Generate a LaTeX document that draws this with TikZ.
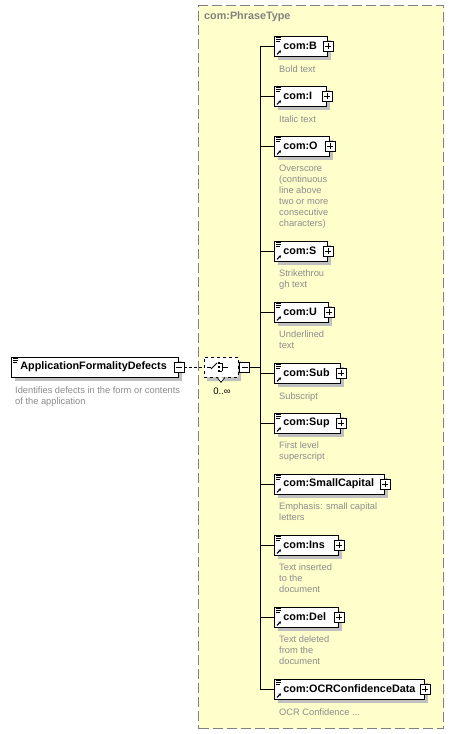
\documentclass[tikz,border=0pt]{standalone}
\usepackage{fontspec}
\setmainfont{Liberation Sans}
\usetikzlibrary{shapes.misc,shadows,arrows.meta,calc}
\definecolor{yel}{RGB}{255,255,204}
\definecolor{bord}{RGB}{128,128,128}
\definecolor{shad}{RGB}{192,192,192}
\definecolor{desccol}{RGB}{140,140,140}
\tikzset{
  elem/.style={draw=black, fill=white, line width=0.8pt, minimum height=20pt,
    inner xsep=0pt, inner ysep=0pt, align=left, anchor=west,
    font=\fontsize{10.8}{12}\selectfont\bfseries,
    drop shadow={fill=shad, opacity=1, shadow xshift=4pt, shadow yshift=-4pt}},
  plusbox/.style={draw=black, fill=white, minimum size=10pt, inner sep=0pt, line width=0.6pt,
    path picture={\draw[line width=0.6pt]
      ([xshift=2pt]path picture bounding box.west) -- ([xshift=-2pt]path picture bounding box.east)
      ([yshift=-2pt]path picture bounding box.north) -- ([yshift=2pt]path picture bounding box.south);}},
  minusbox/.style={draw=black, fill=white, minimum size=10pt, inner sep=0pt, line width=0.6pt,
    path picture={\draw[line width=0.6pt]
      ([xshift=2pt]path picture bounding box.west) -- ([xshift=-2pt]path picture bounding box.east);}},
  descr/.style={anchor=north west, inner sep=0pt, align=left, text=desccol,
    font=\fontsize{9.3}{11}\selectfont, execute at begin node=\strut},
  groupbox/.style={draw=bord, fill=yel, line width=1.1pt, dash pattern=on 10pt off 4pt,
    anchor=north west, inner sep=0pt},
  conn/.style={draw=black, line width=0.8pt},
}
\newcommand\deco[1]{%
  \draw[line width=0.7pt] ([shift={(2,2)}]#1.north west) -- +(5,0)
    ([shift={(2,4)}]#1.north west) -- +(5,0)
    ([shift={(2,6)}]#1.north west) -- +(4,0);}
\newcommand\elt[5]{%
  \node[elem, text width=#3pt] (#1) at (274,#2) {\hspace*{9pt}#4};
  \node[plusbox] (#1p) at (#1.east) {};
  \node[descr] (#1d) at ([xshift=5pt,yshift=-8pt]#1.south west) {#5};
  \deco{#1}
  \draw[line width=1pt, -{Stealth[length=2.5pt,width=3pt]}] ([shift={(3,-2)}]#1.south west) -- +(4,-4);
  \draw[conn] (spine |- #1.west) -- (#1.west);}
\begin{document}
\begin{tikzpicture}[x=1pt,y=-1pt]
\useasboundingbox (0,0) rectangle (453,734);
\fill[white] (0,0) rectangle (453,734);
\node[groupbox, minimum width=245pt, minimum height=723pt] (grp) at (198,5) {};
\node[anchor=west, inner sep=0pt, text=bord, font=\fontsize{10.8}{12}\selectfont\bfseries] (title) at (204,17) {com:PhraseType};
\coordinate (spine) at (260,367);
% main element
\node[elem, text width=167pt] (afd) at (11,367) {\hspace*{9pt}ApplicationFormalityDefects};
\node[minusbox] (afdm) at (afd.east) {};
\deco{afd}
\node[descr] (afdd) at ([xshift=4pt,yshift=-9pt]afd.south west) {Identifies defects in the form or contents\\of the application};
% sequence compositor
\node[chamfered rectangle, chamfered rectangle xsep=5pt, draw=black, dashed, fill=white, line width=0.7pt,
  minimum width=34pt, minimum height=20pt, inner sep=0pt,
  drop shadow={fill=shad, opacity=1, shadow xshift=3pt, shadow yshift=-4pt}] (seq) at (221,367) {};
\begin{scope}[shift={(seq.center)}, line width=0.8pt]
  \draw (-14,0) -- (-10,0);
  \draw (-10,2) -- (-4,-4);
  \fill (-3,-5) rectangle (-1,-3);
  \fill (-3,-1) rectangle (-1,1);
  \fill (-3,3) rectangle (-1,5);
  \draw (1,-4) -- (1,4);
  \draw (-1,-4) -- (1,-4) (-1,4) -- (1,4);
  \draw (1,0) -- (7,0);
\end{scope}
\draw[black, line width=0.7pt, fill=white] ([shift={(-4,0)}]seq.south) -- ([shift={(0,5)}]seq.south) -- ([shift={(4,0)}]seq.south);
\node[minusbox] (seqm) at (244.5,367) {};
\node[inner sep=0pt, font=\fontsize{9.5}{11}\selectfont] (card) at (222,391) {0..∞};
\draw[line width=0.8pt, dash pattern=on 3pt off 2pt] (afdm.east) -- (seq.west);
\draw[conn] (seqm.east) -- (spine);
% children
\elt{b}{46}{53}{com:B}{Bold text}
\elt{i}{96}{52}{com:I}{Italic text}
\elt{o}{146}{55}{com:O}{Overscore\\(continuous\\line above\\two or more\\consecutive\\characters)}
\elt{s}{251}{53}{com:S}{Strikethrou\\gh text}
\elt{u}{312}{54}{com:U}{Underlined\\text}
\elt{sub}{373}{66}{com:Sub}{Subscript}
\elt{sup}{423}{66}{com:Sup}{First level\\superscript}
\elt{sc}{484}{110}{com:SmallCapital}{Emphasis: small capital\\letters}
\elt{ins}{545}{64}{com:Ins}{Text inserted\\to the\\document}
\elt{del}{617}{64}{com:Del}{Text deleted\\from the\\document}
\elt{ocr}{689}{150}{com:OCRConfidenceData}{OCR Confidence ...}
\draw[conn] (spine |- b.west) -- (spine |- ocr.west);
\end{tikzpicture}
\end{document}
